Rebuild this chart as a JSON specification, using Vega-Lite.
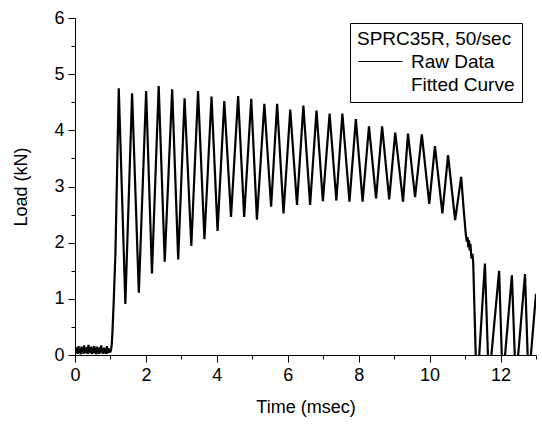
{
  "$schema": "https://vega.github.io/schema/vega-lite/v6.json",
  "width": 461,
  "height": 337,
  "autosize": {"type": "none"},
  "padding": {"left": 75, "top": 18, "right": 6, "bottom": 73},
  "background": "white",
  "config": {
    "view": {"stroke": null},
    "font": "Liberation Sans",
    "axis": {
      "domainColor": "black", "tickColor": "black", "labelColor": "black", "titleColor": "black",
      "labelFontSize": 18, "titleFontSize": 18, "titleFontWeight": "normal", "grid": false,
      "labelFont": "Liberation Sans", "titleFont": "Liberation Sans", "domainWidth": 1, "tickWidth": 1,
      "labelOverlap": false, "labelFlush": false
    }
  },
  "data": {"values": [
    {"t": 0.00, "load": 0.05}, {"t": 0.02, "load": 0.14}, {"t": 0.04, "load": 0.03}, {"t": 0.06, "load": 0.12},
    {"t": 0.08, "load": 0.02}, {"t": 0.10, "load": 0.16}, {"t": 0.12, "load": 0.04}, {"t": 0.14, "load": 0.11},
    {"t": 0.16, "load": 0.01}, {"t": 0.18, "load": 0.15}, {"t": 0.20, "load": 0.05}, {"t": 0.22, "load": 0.13},
    {"t": 0.24, "load": 0.02}, {"t": 0.26, "load": 0.17}, {"t": 0.28, "load": 0.04}, {"t": 0.30, "load": 0.12},
    {"t": 0.32, "load": 0.03}, {"t": 0.34, "load": 0.14}, {"t": 0.36, "load": 0.02}, {"t": 0.38, "load": 0.18},
    {"t": 0.40, "load": 0.05}, {"t": 0.42, "load": 0.13}, {"t": 0.44, "load": 0.03}, {"t": 0.46, "load": 0.15},
    {"t": 0.48, "load": 0.02}, {"t": 0.50, "load": 0.12}, {"t": 0.52, "load": 0.04}, {"t": 0.54, "load": 0.16},
    {"t": 0.56, "load": 0.03}, {"t": 0.58, "load": 0.13}, {"t": 0.60, "load": 0.01}, {"t": 0.62, "load": 0.15},
    {"t": 0.64, "load": 0.04}, {"t": 0.66, "load": 0.12}, {"t": 0.68, "load": 0.02}, {"t": 0.70, "load": 0.14},
    {"t": 0.72, "load": 0.03}, {"t": 0.74, "load": 0.17}, {"t": 0.76, "load": 0.05}, {"t": 0.78, "load": 0.12},
    {"t": 0.80, "load": 0.02}, {"t": 0.82, "load": 0.13}, {"t": 0.84, "load": 0.04}, {"t": 0.86, "load": 0.11},
    {"t": 0.88, "load": 0.02}, {"t": 0.90, "load": 0.16}, {"t": 0.92, "load": 0.03}, {"t": 0.94, "load": 0.12},
    {"t": 0.96, "load": 0.04}, {"t": 0.98, "load": 0.10}, {"t": 1.00, "load": 0.05},
    {"t": 1.03, "load": 0.15}, {"t": 1.05, "load": 0.33}, {"t": 1.09, "load": 0.92}, {"t": 1.14, "load": 1.81},
    {"t": 1.234, "load": 4.75}, {"t": 1.42, "load": 0.91},
    {"t": 1.61, "load": 4.66}, {"t": 1.80, "load": 1.11},
    {"t": 2.006, "load": 4.70}, {"t": 2.17, "load": 1.45},
    {"t": 2.36, "load": 4.79}, {"t": 2.53, "load": 1.66},
    {"t": 2.74, "load": 4.73}, {"t": 2.91, "load": 1.70},
    {"t": 3.09, "load": 4.57}, {"t": 3.28, "load": 1.94},
    {"t": 3.47, "load": 4.70}, {"t": 3.65, "load": 2.06},
    {"t": 3.85, "load": 4.60}, {"t": 4.02, "load": 2.21},
    {"t": 4.21, "load": 4.52}, {"t": 4.40, "load": 2.46},
    {"t": 4.60, "load": 4.61}, {"t": 4.77, "load": 2.46},
    {"t": 4.97, "load": 4.56}, {"t": 5.13, "load": 2.41},
    {"t": 5.34, "load": 4.47}, {"t": 5.53, "load": 2.64},
    {"t": 5.70, "load": 4.47}, {"t": 5.88, "load": 2.52},
    {"t": 6.07, "load": 4.37}, {"t": 6.26, "load": 2.67},
    {"t": 6.44, "load": 4.44}, {"t": 6.63, "load": 2.67},
    {"t": 6.81, "load": 4.35}, {"t": 6.99, "load": 2.74},
    {"t": 7.18, "load": 4.30}, {"t": 7.37, "load": 2.75},
    {"t": 7.54, "load": 4.30}, {"t": 7.74, "load": 2.73},
    {"t": 7.92, "load": 4.20}, {"t": 8.11, "load": 2.73},
    {"t": 8.29, "load": 4.07}, {"t": 8.49, "load": 2.79},
    {"t": 8.66, "load": 4.07}, {"t": 8.86, "load": 2.77},
    {"t": 9.03, "load": 3.96}, {"t": 9.25, "load": 2.73},
    {"t": 9.39, "load": 3.94}, {"t": 9.59, "load": 2.81},
    {"t": 9.78, "load": 3.93}, {"t": 9.99, "load": 2.69},
    {"t": 10.15, "load": 3.72}, {"t": 10.36, "load": 2.52},
    {"t": 10.52, "load": 3.56}, {"t": 10.72, "load": 2.40},
    {"t": 10.89, "load": 3.17}, {"t": 10.96, "load": 2.60}, {"t": 11.02, "load": 2.15},
    {"t": 11.05, "load": 2.02}, {"t": 11.07, "load": 2.10}, {"t": 11.09, "load": 1.92}, {"t": 11.11, "load": 2.04},
    {"t": 11.13, "load": 1.86}, {"t": 11.15, "load": 1.98}, {"t": 11.18, "load": 1.72}, {"t": 11.21, "load": 1.80},
    {"t": 11.23, "load": 1.63}, {"t": 11.30, "load": 0.0}, {"t": 11.34, "load": -0.6},
    {"t": 11.56, "load": 1.63}, {"t": 11.67, "load": -0.5},
    {"t": 11.96, "load": 1.50}, {"t": 12.06, "load": -0.5},
    {"t": 12.32, "load": 1.42}, {"t": 12.43, "load": -0.5},
    {"t": 12.69, "load": 1.44}, {"t": 12.79, "load": -0.5},
    {"t": 13.0, "load": 1.09}
  ]},
  "mark": {"type": "line", "clip": true, "strokeWidth": 2.2, "interpolate": "linear"},
  "encoding": {
    "x": {
      "field": "t", "type": "quantitative",
      "scale": {"domain": [0, 13], "nice": false, "zero": false},
      "axis": {
        "title": "Time (msec)",
        "values": [0, 1, 2, 3, 4, 5, 6, 7, 8, 9, 10, 11, 12, 13],
        "labelExpr": "datum.value % 2 === 0 ? '' + datum.value : ''",
        "tickSize": {"condition": {"test": "datum.value % 2 === 0", "value": 7}, "value": 4},
        "labelPadding": 4, "titlePadding": 14
      }
    },
    "y": {
      "field": "load", "type": "quantitative",
      "scale": {"domain": [0, 6], "nice": false},
      "axis": {
        "title": "Load (kN)",
        "values": [0, 0.5, 1, 1.5, 2, 2.5, 3, 3.5, 4, 4.5, 5, 5.5, 6],
        "labelExpr": "datum.value % 1 === 0 ? '' + datum.value : ''",
        "tickSize": {"condition": {"test": "datum.value % 1 === 0", "value": 7}, "value": 4},
        "labelPadding": 4, "titlePadding": 23
      }
    },
    "color": {
      "datum": "Raw Data", "type": "nominal",
      "scale": {"domain": ["Raw Data", "Fitted Curve"], "range": ["black", "white"]},
      "legend": {
        "orient": "none", "legendX": 275, "legendY": 5,
        "title": "SPRC35R, 50/sec", "titleFontSize": 19, "titleFontWeight": "normal",
        "titleColor": "black", "titleFont": "Liberation Sans",
        "labelFontSize": 19, "labelColor": "black", "labelFont": "Liberation Sans",
        "symbolType": "M-8,0H36", "symbolSize": 4, "symbolStrokeWidth": 1,
        "strokeColor": "black", "fillColor": "white", "padding": 7,
        "labelOffset": 35, "titlePadding": 3, "rowPadding": 3
      }
    }
  }
}
